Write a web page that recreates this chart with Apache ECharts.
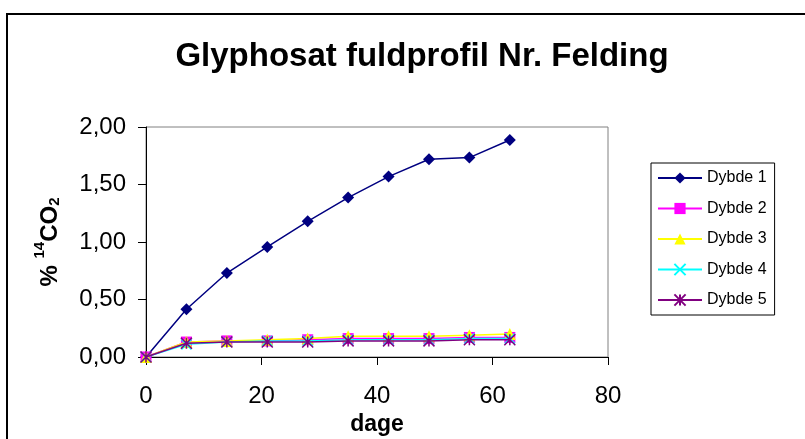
<!DOCTYPE html>
<html>
<head>
<meta charset="utf-8">
<script src="https://cdn.jsdelivr.net/npm/echarts@6/dist/echarts.min.js"></script>
<style>
html,body{margin:0;padding:0;background:#fff;}
#chart{width:805px;height:439px;}
</style>
</head>
<body>
<div id="chart"></div>
<script>
const days = [0, 7, 14, 21, 28, 35, 42, 49, 56, 63];
const seriesNames = ['Dybde 1', 'Dybde 2', 'Dybde 3', 'Dybde 4', 'Dybde 5'];
const dybde1 = [0, 0.415, 0.73, 0.957, 1.18, 1.386, 1.569, 1.72, 1.734, 1.887];
const dybde2 = [0, 0.13, 0.14, 0.14, 0.15, 0.16, 0.16, 0.16, 0.17, 0.17];
const dybde3 = [0, 0.13, 0.14, 0.15, 0.16, 0.18, 0.18, 0.18, 0.19, 0.20];
const dybde4 = [0, 0.11, 0.13, 0.14, 0.14, 0.15, 0.15, 0.15, 0.16, 0.16];
const dybde5 = [0, 0.12, 0.13, 0.13, 0.13, 0.14, 0.14, 0.14, 0.15, 0.15];
const xTicks = [0, 20, 40, 60, 80];
const yTicks = ['0,00', '0,50', '1,00', '1,50', '2,00'];

const values = [dybde1, dybde2, dybde3, dybde4, dybde5];
const colors = ['#000080', '#FF00FF', '#FFFF00', '#00FFFF', '#800080'];
const symbols = ['diamond', 'rect', 'triangle',
  'path://M0,0 L10,10 M10,0 L0,10',
  'path://M0,0 L10,10 M10,0 L0,10 M5,0 L5,10'];
const sizes = [12, 11, 12, 10, 11];

const font = 'Liberation Sans, Arial, sans-serif';

const series = seriesNames.map((name, i) => {
  const stroked = i >= 3;
  return {
    name: name,
    type: 'line',
    data: days.map((d, j) => [d, values[i][j]]),
    symbol: symbols[i],
    symbolSize: sizes[i],
    lineStyle: { color: colors[i], width: 1.5 },
    itemStyle: stroked
      ? { color: colors[i], borderColor: colors[i], borderWidth: 1.5 }
      : { color: colors[i], borderWidth: 0 },
    z: 2 + i,
    animation: false
  };
});

const chart = echarts.init(document.getElementById('chart'), null, { renderer: 'canvas' });
chart.setOption({
  backgroundColor: '#fff',
  animation: false,
  title: {
    text: 'Glyphosat fuldprofil Nr. Felding',
    left: 417,
    top: 35,
    textAlign: 'center',
    textStyle: { fontFamily: font, fontWeight: 'bold', fontSize: 33, color: '#000' }
  },
  grid: {
    left: 146, right: 197, top: 127, bottom: 82,
    containLabel: false,
    outerBoundsMode: 'none',
    show: true, borderColor: '#808080', borderWidth: 1, backgroundColor: '#fff'
  },
  legend: {
    orient: 'vertical',
    left: 651, top: 163,
    width: 125,
    padding: [7, 8, 7, 6],
    itemWidth: 44, itemHeight: 14, itemGap: 14.5,
    borderColor: '#000', borderWidth: 1,
    textStyle: { fontFamily: font, fontSize: 16, color: '#000', lineHeight: 14 },
    data: seriesNames
  },
  xAxis: {
    type: 'value',
    min: 0, max: 80, interval: 20,
    name: 'dage',
    nameLocation: 'middle',
    nameGap: 56,
    nameTextStyle: { fontFamily: font, fontWeight: 'bold', fontSize: 23, color: '#000' },
    axisLine: { show: true, onZero: false, lineStyle: { color: '#000', width: 1 } },
    axisTick: { show: true, inside: false, length: 8, lineStyle: { color: '#000' } },
    axisLabel: {
      fontFamily: font, fontSize: 24, color: '#000', margin: 27,
      formatter: v => String(xTicks[xTicks.indexOf(v)])
    },
    splitLine: { show: false }
  },
  yAxis: {
    type: 'value',
    min: 0, max: 2, interval: 0.5,
    name: '{b|% }{sup|14}{b|CO}{sub|2}',
    nameLocation: 'middle',
    nameRotate: 90,
    nameGap: 84,
    nameTextStyle: {
      rich: {
        b: { fontFamily: font, fontWeight: 'bold', fontSize: 24, color: '#000', verticalAlign: 'bottom', lineHeight: 30 },
        sup: { fontFamily: font, fontWeight: 'bold', fontSize: 15, color: '#000', verticalAlign: 'top', lineHeight: 30 },
        sub: { fontFamily: font, fontWeight: 'bold', fontSize: 15, color: '#000', verticalAlign: 'bottom', lineHeight: 22 }
      }
    },
    axisLine: { show: true, lineStyle: { color: '#000', width: 1 } },
    axisTick: { show: true, inside: false, length: 8, lineStyle: { color: '#000' } },
    axisLabel: {
      fontFamily: font, fontSize: 24, color: '#000', margin: 20,
      formatter: v => yTicks[Math.round(v / 0.5)]
    },
    splitLine: { show: false }
  },
  graphic: [{
    type: 'rect',
    shape: { x: 7, y: 14, width: 900, height: 600 },
    style: { fill: 'none', stroke: '#000', lineWidth: 2 },
    silent: true,
    z: 100
  }],
  series: series
});
</script>
</body>
</html>
